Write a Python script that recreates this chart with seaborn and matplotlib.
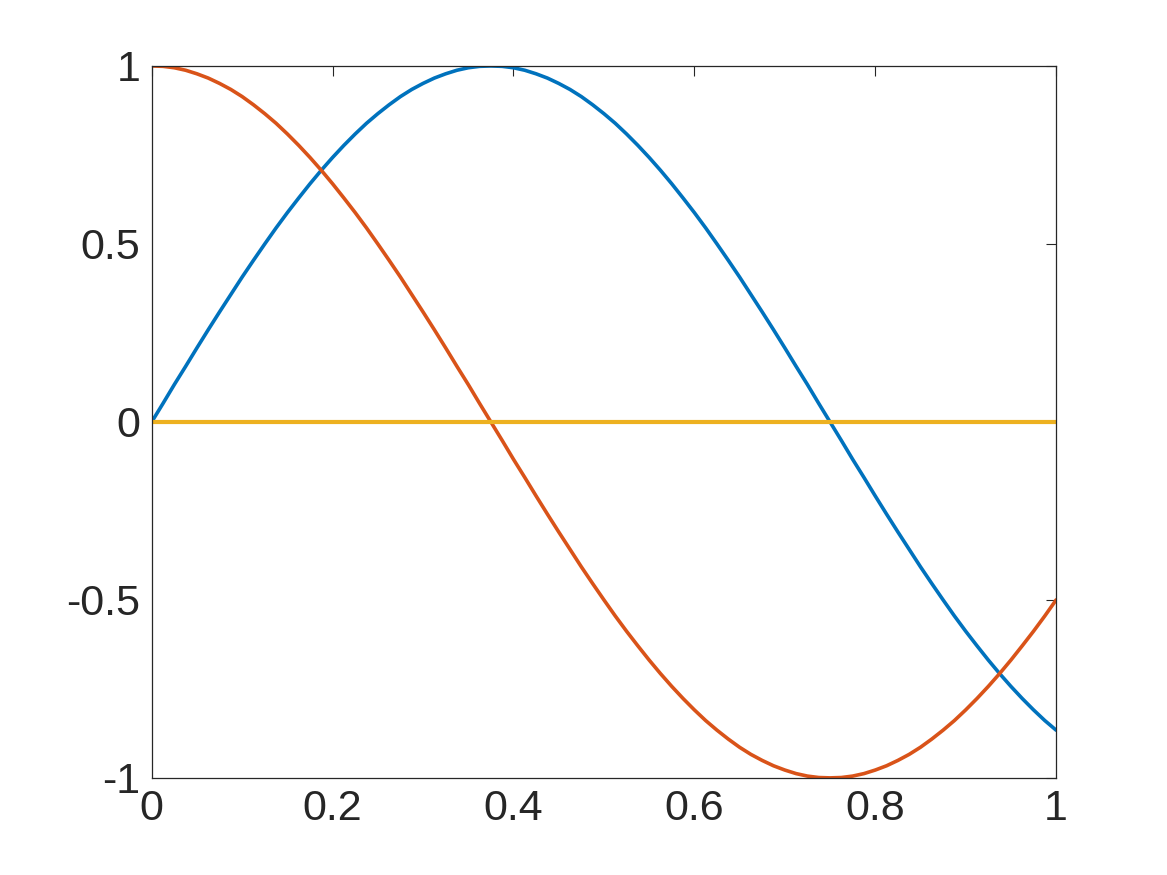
import numpy as np
import pandas as pd
import matplotlib
matplotlib.use("Agg")
import matplotlib.pyplot as plt
import seaborn as sns

# Values at steps of 0.0125
x_vals = [0.0000, 0.0125, 0.0250, 0.0375, 0.0500, 0.0625, 0.0750, 0.0875, 0.1000, 0.1125,
          0.1250, 0.1375, 0.1500, 0.1625, 0.1750, 0.1875, 0.2000, 0.2125, 0.2250, 0.2375,
          0.2500, 0.2625, 0.2750, 0.2875, 0.3000, 0.3125, 0.3250, 0.3375, 0.3500, 0.3625,
          0.3750, 0.3875, 0.4000, 0.4125, 0.4250, 0.4375, 0.4500, 0.4625, 0.4750, 0.4875,
          0.5000, 0.5125, 0.5250, 0.5375, 0.5500, 0.5625, 0.5750, 0.5875, 0.6000, 0.6125,
          0.6250, 0.6375, 0.6500, 0.6625, 0.6750, 0.6875, 0.7000, 0.7125, 0.7250, 0.7375,
          0.7500, 0.7625, 0.7750, 0.7875, 0.8000, 0.8125, 0.8250, 0.8375, 0.8500, 0.8625,
          0.8750, 0.8875, 0.9000, 0.9125, 0.9250, 0.9375, 0.9500, 0.9625, 0.9750, 0.9875,
          1.0000]
blue_vals = [0.000, 0.052, 0.105, 0.156, 0.208, 0.259, 0.309, 0.358, 0.407, 0.454,
             0.500, 0.545, 0.588, 0.629, 0.669, 0.707, 0.743, 0.777, 0.809, 0.839,
             0.866, 0.891, 0.914, 0.934, 0.951, 0.966, 0.978, 0.988, 0.995, 0.999,
             1.000, 0.999, 0.995, 0.988, 0.978, 0.966, 0.951, 0.934, 0.914, 0.891,
             0.866, 0.839, 0.809, 0.777, 0.743, 0.707, 0.669, 0.629, 0.588, 0.545,
             0.500, 0.454, 0.407, 0.358, 0.309, 0.259, 0.208, 0.156, 0.105, 0.052,
             0.000, -0.052, -0.105, -0.156, -0.208, -0.259, -0.309, -0.358, -0.407, -0.454,
             -0.500, -0.545, -0.588, -0.629, -0.669, -0.707, -0.743, -0.777, -0.809, -0.839,
             -0.866]
red_vals = [1.000, 0.999, 0.995, 0.988, 0.978, 0.966, 0.951, 0.934, 0.914, 0.891,
            0.866, 0.839, 0.809, 0.777, 0.743, 0.707, 0.669, 0.629, 0.588, 0.545,
            0.500, 0.454, 0.407, 0.358, 0.309, 0.259, 0.208, 0.156, 0.105, 0.052,
            0.000, -0.052, -0.105, -0.156, -0.208, -0.259, -0.309, -0.358, -0.407, -0.454,
            -0.500, -0.545, -0.588, -0.629, -0.669, -0.707, -0.743, -0.777, -0.809, -0.839,
            -0.866, -0.891, -0.914, -0.934, -0.951, -0.966, -0.978, -0.988, -0.995, -0.999,
            -1.000, -0.999, -0.995, -0.988, -0.978, -0.966, -0.951, -0.934, -0.914, -0.891,
            -0.866, -0.839, -0.809, -0.777, -0.743, -0.707, -0.669, -0.629, -0.588, -0.545,
            -0.500]
yellow_vals = [0.0] * len(x_vals)

x_ticks = [0, 0.2, 0.4, 0.6, 0.8, 1]
x_tick_labels = ["0", "0.2", "0.4", "0.6", "0.8", "1"]
y_ticks = [-1, -0.5, 0, 0.5, 1]
y_tick_labels = ["-1", "-0.5", "0", "0.5", "1"]

colors = ["#0072BD", "#D95319", "#EDB120"]
widths = [2.6, 2.6, 3.0]

sns.set_style("white")
plt.rcParams["font.family"] = ["Liberation Sans", "DejaVu Sans"]

fig = plt.figure(figsize=(11.67, 8.75), dpi=100)
ax = fig.add_axes([0.13, 0.111, 0.775, 0.8136])

for vals, c, lw in zip([blue_vals, red_vals, yellow_vals], colors, widths):
    df = pd.DataFrame({"x": x_vals, "y": vals})
    sns.lineplot(data=df, x="x", y="y", color=c, linewidth=lw, ax=ax)

ax.set_xlim(0, 1)
ax.set_ylim(-1, 1)
ax.set_xticks(x_ticks)
ax.set_xticklabels(x_tick_labels)
ax.set_yticks(y_ticks)
ax.set_yticklabels(y_tick_labels)
ax.set_xlabel("")
ax.set_ylabel("")

ax.tick_params(direction="in", length=7, width=0.8, colors="#262626",
               top=True, right=True, labelsize=31, pad=8)
for s in ax.spines.values():
    s.set_color("#262626")
    s.set_linewidth(0.9)
    s.set_visible(True)

fig.savefig("out.png", dpi=100, facecolor="white")
